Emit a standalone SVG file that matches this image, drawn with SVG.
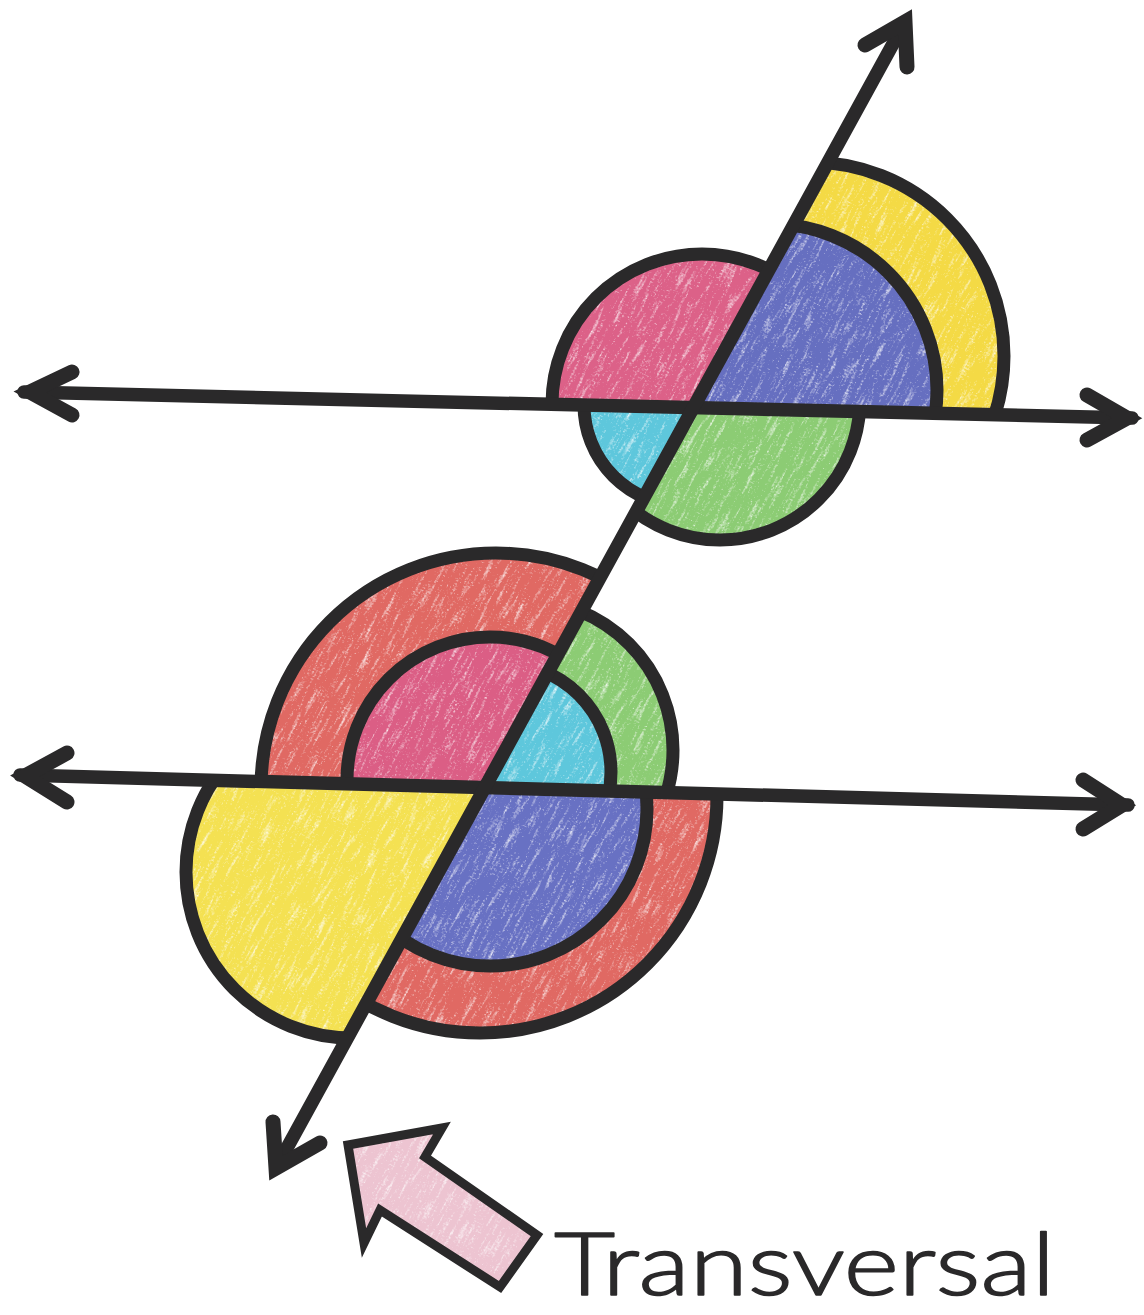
<svg xmlns="http://www.w3.org/2000/svg" width="1144" height="1315" viewBox="0 0 1144 1315">
<defs>
<style>
.ln{fill:none;stroke:#2a292a;stroke-width:13.5;stroke-linecap:round}
.hd{fill:none;stroke:#2a292a;stroke-width:15;stroke-linecap:round;stroke-linejoin:miter;stroke-miterlimit:10}
.ol{fill:none;stroke:#2a292a;stroke-width:13}
.lbl{font-family:Lato,"Liberation Sans",Arial,sans-serif;font-weight:300;font-size:87px;fill:#2a292a;stroke:#2a292a;stroke-width:1.6px;stroke-linejoin:round}
</style>
<clipPath id="tUL"><polygon points="694.3,407.7 0,391.65 0,0 917.4,0"/></clipPath>
<clipPath id="tUR"><polygon points="694.3,407.7 917.4,0 1144,0 1144,418.05"/></clipPath>
<clipPath id="tLL"><polygon points="694.3,407.7 0,391.65 0,1315 197.8,1315"/></clipPath>
<clipPath id="tLR"><polygon points="694.3,407.7 197.8,1315 1144,1315 1144,418.05"/></clipPath>
<clipPath id="bUL"><polygon points="486.4,787.7 0,774.73 0,0 917.4,0"/></clipPath>
<clipPath id="bUR"><polygon points="486.4,787.7 917.4,0 1144,0 1144,805.2"/></clipPath>
<clipPath id="bLL"><polygon points="486.4,787.7 0,774.73 0,1315 197.8,1315"/></clipPath>
<clipPath id="bLR"><polygon points="486.4,787.7 197.8,1315 1144,1315 1144,805.2"/></clipPath>
<filter id="crayon" x="-800" y="-800" width="2700" height="2700" filterUnits="userSpaceOnUse">
<feTurbulence type="fractalNoise" baseFrequency="0.035 0.3" numOctaves="2" seed="7" result="a"/>
<feTurbulence type="fractalNoise" baseFrequency="0.6" numOctaves="1" seed="3" result="b"/>
<feComposite in="a" in2="b" operator="arithmetic" k1="0" k2="0.7" k3="0.7" k4="-0.2"/>
<feColorMatrix type="matrix" values="0 0 0 0 1  0 0 0 0 1  0 0 0 0 1  2.4 0 0 0 -0.78"/>
</filter>
</defs>
<rect width="1144" height="1315" fill="#ffffff"/>

<g id="angle-fills">
<g id="top-fills">
<circle cx="702" cy="404" r="150" fill="#dc6188" clip-path="url(#tUL)"/>
<circle cx="685" cy="405" r="101" fill="#5ec7dc" clip-path="url(#tLL)"/>
<circle cx="720" cy="400" r="140" fill="#8ccc74" clip-path="url(#tLR)"/>
<circle cx="810" cy="356" r="194" fill="#f4da45" clip-path="url(#tUR)"/>
<circle cx="771" cy="390" r="166" fill="#666fc0" clip-path="url(#tUR)"/>
</g>
<g id="bottom-fills">
<circle cx="496" cy="788" r="235" fill="#e06963" clip-path="url(#bUL)"/>
<circle cx="490" cy="780" r="143" fill="#db5e85" clip-path="url(#bUL)"/>
<circle cx="523" cy="750" r="150" fill="#8ccc74" clip-path="url(#bUR)"/>
<circle cx="502" cy="772" r="109" fill="#5ec7dc" clip-path="url(#bUR)"/>
<circle cx="352" cy="872" r="166" fill="#f4e152" clip-path="url(#bLL)"/>
<circle cx="480" cy="796" r="237" fill="#e06963" clip-path="url(#bLR)"/>
<circle cx="490" cy="809" r="157" fill="#6871c3" clip-path="url(#bLR)"/>
</g>
<polygon id="pointer-fill" points="348,1145 442,1128 425,1157 537,1235 500,1287 380,1210 364,1243" fill="#edc4d1"/>
</g>

<g id="crayon-texture" transform="rotate(-62 572 657)">
<rect x="-800" y="-800" width="2700" height="2700" filter="url(#crayon)"/>
</g>

<g id="angle-outlines">
<g id="top-cluster">
<circle class="ol" cx="702" cy="404" r="150" clip-path="url(#tUL)"/>
<circle class="ol" cx="685" cy="405" r="101" clip-path="url(#tLL)"/>
<circle class="ol" cx="720" cy="400" r="140" clip-path="url(#tLR)"/>
<circle class="ol" cx="810" cy="356" r="194" clip-path="url(#tUR)"/>
<circle class="ol" cx="771" cy="390" r="166" clip-path="url(#tUR)"/>
</g>
<g id="bottom-cluster">
<circle class="ol" cx="496" cy="788" r="235" clip-path="url(#bUL)"/>
<circle class="ol" cx="490" cy="780" r="143" clip-path="url(#bUL)"/>
<circle class="ol" cx="523" cy="750" r="150" clip-path="url(#bUR)"/>
<circle class="ol" cx="502" cy="772" r="109" clip-path="url(#bUR)"/>
<circle class="ol" cx="352" cy="872" r="166" clip-path="url(#bLL)"/>
<circle class="ol" cx="480" cy="796" r="237" clip-path="url(#bLR)"/>
<circle class="ol" cx="490" cy="809" r="157" clip-path="url(#bLR)"/>
</g>
</g>

<g id="connectors">
<line class="ln" x1="24" y1="392" x2="1132" y2="418"/>
<polyline class="hd" points="72,372 30,392 72,415"/>
<polyline class="hd" points="1087,395 1127,418 1087,440"/>
<line class="ln" x1="20" y1="775" x2="1128" y2="805"/>
<polyline class="hd" points="67,753 25,776 67,802"/>
<polyline class="hd" points="1083,780 1122,805 1083,829"/>
<line class="ln" x1="905" y1="22" x2="276" y2="1168"/>
<polyline class="hd" points="865,45 905,22 907,67"/>
<polyline class="hd" points="273,1122 276,1168 320,1143"/>
</g>

<g id="label">
<polygon id="pointer" points="348,1145 442,1128 425,1157 537,1235 500,1287 380,1210 364,1243" fill="none" stroke="#2a292a" stroke-width="9" stroke-linejoin="miter"/>
<text class="lbl" x="554" y="1295" textLength="501" lengthAdjust="spacingAndGlyphs">Transversal</text>
</g>
</svg>
